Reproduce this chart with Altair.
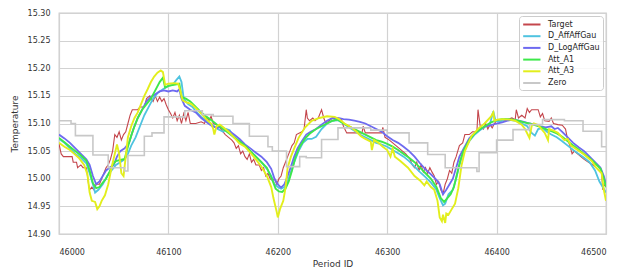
import altair as alt
import pandas as pd

series_names = ["Target", "D_AffAffGau", "D_LogAffGau", "Att_A1", "Att_A3", "Zero"]
series_colors = ["#c4464c", "#4fc3e0", "#6e6af0", "#3de84a", "#e2ee1c", "#c8c8c8"]
series_widths = [1.1, 1.8, 1.8, 1.9, 1.9, 1.6]

x_ticks = [46000, 46100, 46200, 46300, 46400, 46500]
y_ticks = [14.90, 14.95, 15.00, 15.05, 15.10, 15.15, 15.20, 15.25, 15.30]

target_x = [46000, 46002, 46004, 46012, 46013, 46016, 46017, 46020, 46022, 46025, 46027, 46028, 46030, 46032, 46034, 46037, 46039, 46041, 46043, 46045, 46047, 46049, 46050, 46051, 46053, 46055, 46057, 46059, 46061, 46063, 46065, 46067, 46072, 46074, 46078, 46080, 46083, 46086, 46088, 46090, 46092, 46094, 46096, 46098, 46100, 46102, 46104, 46106, 46108, 46110, 46112, 46114, 46116, 46118, 46120, 46125, 46130, 46133, 46135, 46137, 46139, 46141, 46145, 46148, 46150, 46152, 46155, 46158, 46160, 46162, 46164, 46166, 46168, 46170, 46172, 46174, 46176, 46178, 46180, 46183, 46185, 46187, 46189, 46191, 46193, 46195, 46197, 46199, 46201, 46203, 46205, 46207, 46209, 46211, 46213, 46215, 46217, 46222, 46224, 46226, 46227, 46229, 46232, 46234, 46237, 46240, 46242, 46244, 46247, 46250, 46254, 46258, 46260, 46263, 46270, 46277, 46278, 46280, 46295, 46296, 46298, 46302, 46305, 46308, 46311, 46314, 46317, 46319, 46321, 46323, 46325, 46327, 46329, 46331, 46333, 46335, 46337, 46339, 46341, 46343, 46345, 46347, 46349, 46351, 46353, 46355, 46357, 46359, 46361, 46363, 46366, 46369, 46371, 46375, 46378, 46382, 46383, 46385, 46388, 46390, 46392, 46394, 46396, 46398, 46400, 46403, 46407, 46410, 46414, 46417, 46418, 46420, 46423, 46426, 46428, 46430, 46432, 46438, 46440, 46442, 46444, 46448, 46450, 46452, 46456, 46460, 46463, 46465, 46467, 46469, 46471, 46474, 46477, 46480, 46484, 46488, 46491, 46494, 46496, 46497, 46498, 46500]
target_y = [15.063, 15.045, 15.04, 15.04, 15.03, 15.03, 15.02, 15.025, 15.02, 15.02, 14.99, 14.98, 14.985, 14.98, 14.99, 14.99, 15.0, 15.01, 15.02, 15.025, 15.035, 15.05, 15.065, 15.08, 15.075, 15.085, 15.07, 15.08, 15.085, 15.10, 15.115, 15.125, 15.125, 15.13, 15.13, 15.145, 15.15, 15.14, 15.15, 15.14, 15.148, 15.14, 15.145, 15.134, 15.125, 15.118, 15.11, 15.12, 15.105, 15.115, 15.10, 15.118, 15.105, 15.12, 15.10, 15.10, 15.103, 15.10, 15.112, 15.105, 15.113, 15.10, 15.097, 15.09, 15.085, 15.08, 15.075, 15.07, 15.065, 15.055, 15.06, 15.045, 15.05, 15.04, 15.035, 15.045, 15.03, 15.035, 15.025, 15.025, 15.015, 15.02, 15.005, 15.01, 15.0, 14.997, 15.0, 14.99, 15.0, 15.005, 15.02, 15.03, 15.04, 15.05, 15.06, 15.065, 15.08, 15.085, 15.09, 15.125, 15.11, 15.105, 15.11, 15.105, 15.11, 15.125, 15.11, 15.10, 15.105, 15.11, 15.105, 15.108, 15.095, 15.083, 15.083, 15.083, 15.095, 15.083, 15.083, 15.093, 15.075, 15.07, 15.065, 15.06, 15.055, 15.05, 15.045, 15.04, 15.035, 15.025, 15.02, 15.03, 15.015, 15.025, 15.012, 15.02, 15.01, 15.02, 15.012, 15.005, 14.99, 14.995, 14.98, 14.972, 14.99, 15.0, 15.015, 15.01, 15.03, 15.04, 15.06, 15.065, 15.08, 15.08, 15.085, 15.085, 15.125, 15.095, 15.09, 15.1, 15.09, 15.098, 15.092, 15.1, 15.105, 15.107, 15.105, 15.107, 15.11, 15.107, 15.125, 15.11, 15.115, 15.11, 15.127, 15.12, 15.125, 15.125, 15.112, 15.118, 15.105, 15.104, 15.11, 15.1, 15.098, 15.097, 15.09, 15.07, 15.06, 15.045, 15.05, 15.045, 15.04, 15.035, 15.03, 15.025, 15.02, 15.015, 15.01, 14.98, 14.99, 14.985]

affaff_x = [46000, 46005, 46010, 46015, 46020, 46025, 46028, 46031, 46033, 46036, 46040, 46044, 46048, 46052, 46056, 46060, 46063, 46066, 46070, 46074, 46078, 46082, 46086, 46090, 46095, 46100, 46104, 46107, 46110, 46112, 46114, 46118, 46122, 46126, 46130, 46135, 46140, 46145, 46150, 46153, 46156, 46160, 46165, 46170, 46175, 46180, 46185, 46190, 46194, 46197, 46200, 46203, 46206, 46209, 46212, 46215, 46219, 46223, 46227, 46231, 46235, 46240, 46245, 46250, 46255, 46260, 46265, 46270, 46275, 46280, 46285, 46290, 46295, 46300, 46305, 46310, 46315, 46320, 46325, 46330, 46335, 46340, 46345, 46348, 46351, 46353, 46356, 46360, 46363, 46366, 46370, 46375, 46380, 46385, 46390, 46394, 46397, 46399, 46403, 46408, 46413, 46418, 46423, 46428, 46432, 46435, 46438, 46442, 46446, 46450, 46455, 46460, 46465, 46470, 46475, 46480, 46485, 46490, 46494, 46497, 46500]
affaff_y = [15.072, 15.065, 15.055, 15.045, 15.038, 15.028, 15.01, 14.99, 14.975, 14.98, 14.99, 15.005, 15.015, 15.025, 15.03, 15.035, 15.045, 15.06, 15.075, 15.095, 15.115, 15.13, 15.145, 15.155, 15.162, 15.168, 15.17, 15.178, 15.185, 15.175, 15.145, 15.135, 15.13, 15.12, 15.112, 15.105, 15.098, 15.09, 15.085, 15.09, 15.088, 15.075, 15.067, 15.06, 15.05, 15.04, 15.03, 15.018, 15.005, 14.99, 14.985, 14.982, 14.985, 14.995, 15.012, 15.03, 15.05, 15.065, 15.072, 15.072, 15.076, 15.09, 15.1, 15.105, 15.106, 15.1, 15.093, 15.087, 15.08, 15.075, 15.07, 15.065, 15.062, 15.058, 15.052, 15.046, 15.04, 15.032, 15.022, 15.012, 15.003, 14.993, 14.98, 14.965, 14.952, 14.955, 14.972, 14.98, 15.0, 15.025, 15.05, 15.068, 15.08, 15.088, 15.095, 15.1, 15.122, 15.105, 15.103, 15.108, 15.106, 15.105, 15.1, 15.095, 15.083, 15.078, 15.09, 15.092, 15.085, 15.08, 15.075, 15.068, 15.06, 15.052, 15.045, 15.038, 15.03, 15.015, 14.995, 14.985, 14.975]

logaff_x = [46000, 46005, 46010, 46015, 46020, 46025, 46028, 46031, 46034, 46037, 46040, 46043, 46046, 46050, 46053, 46056, 46060, 46064, 46068, 46072, 46076, 46080, 46084, 46088, 46092, 46096, 46100, 46104, 46108, 46110, 46112, 46115, 46120, 46125, 46130, 46135, 46140, 46145, 46148, 46150, 46155, 46160, 46165, 46170, 46175, 46180, 46185, 46190, 46194, 46197, 46200, 46203, 46206, 46209, 46212, 46215, 46218, 46222, 46226, 46230, 46235, 46240, 46245, 46250, 46255, 46260, 46265, 46270, 46275, 46280, 46285, 46290, 46295, 46300, 46305, 46310, 46315, 46320, 46325, 46330, 46335, 46340, 46345, 46348, 46351, 46354, 46357, 46360, 46363, 46366, 46370, 46375, 46380, 46385, 46390, 46395, 46400, 46405, 46410, 46415, 46420, 46425, 46430, 46435, 46440, 46445, 46450, 46453, 46456, 46460, 46465, 46470, 46475, 46480, 46485, 46490, 46495, 46498, 46500]
logaff_y = [15.08, 15.073, 15.065, 15.055, 15.045, 15.035, 15.025, 15.005, 14.99, 14.995, 15.005, 15.015, 15.02, 15.025, 15.04, 15.05, 15.055, 15.065, 15.09, 15.11, 15.125, 15.14, 15.148, 15.153, 15.158, 15.16, 15.158, 15.16, 15.158, 15.162, 15.145, 15.132, 15.125, 15.12, 15.11, 15.102, 15.095, 15.092, 15.095, 15.09, 15.087, 15.08, 15.072, 15.062, 15.055, 15.047, 15.04, 15.03, 15.018, 15.0, 14.99, 14.984, 14.99, 15.005, 15.022, 15.04, 15.055, 15.068, 15.08, 15.085, 15.09, 15.098, 15.105, 15.11, 15.11, 15.108, 15.107, 15.105, 15.103, 15.1, 15.095, 15.09, 15.085, 15.077, 15.07, 15.065, 15.058, 15.05, 15.04, 15.028, 15.017, 15.008, 14.998, 14.99, 14.972, 14.98, 14.99, 15.0, 15.02, 15.04, 15.055, 15.073, 15.083, 15.09, 15.095, 15.097, 15.1, 15.102, 15.105, 15.107, 15.105, 15.103, 15.1, 15.098, 15.095, 15.093, 15.095, 15.09, 15.092, 15.085, 15.075, 15.065, 15.057, 15.05, 15.04, 15.03, 15.02, 15.005, 14.99]

atta1_x = [46000, 46005, 46010, 46015, 46020, 46025, 46028, 46031, 46034, 46037, 46040, 46043, 46046, 46049, 46052, 46056, 46060, 46063, 46066, 46069, 46072, 46076, 46080, 46084, 46088, 46092, 46095, 46097, 46100, 46105, 46110, 46112, 46116, 46120, 46125, 46130, 46135, 46140, 46145, 46150, 46155, 46160, 46165, 46170, 46175, 46180, 46185, 46190, 46195, 46198, 46201, 46204, 46207, 46210, 46213, 46216, 46220, 46225, 46230, 46235, 46240, 46245, 46250, 46255, 46260, 46265, 46270, 46275, 46280, 46285, 46290, 46295, 46300, 46305, 46310, 46315, 46320, 46325, 46330, 46335, 46340, 46345, 46349, 46352, 46355, 46358, 46361, 46364, 46367, 46370, 46375, 46380, 46385, 46390, 46395, 46400, 46405, 46410, 46415, 46420, 46425, 46430, 46435, 46440, 46445, 46450, 46455, 46460, 46465, 46470, 46475, 46480, 46485, 46490, 46495, 46498, 46500]
atta1_y = [15.074, 15.066, 15.058, 15.05, 15.042, 15.033, 15.015, 14.992, 14.983, 14.985, 14.993, 15.0, 15.012, 15.025, 15.032, 15.034, 15.036, 15.058, 15.078, 15.095, 15.11, 15.125, 15.135, 15.145, 15.16, 15.175, 15.183, 15.165, 15.168, 15.17, 15.172, 15.148, 15.145, 15.14, 15.13, 15.12, 15.112, 15.105, 15.097, 15.09, 15.083, 15.075, 15.068, 15.06, 15.05, 15.04, 15.03, 15.02, 14.998, 14.982, 14.977, 14.976, 14.982, 14.995, 15.015, 15.038, 15.058, 15.073, 15.083, 15.09, 15.095, 15.1, 15.105, 15.107, 15.1, 15.095, 15.09, 15.085, 15.08, 15.075, 15.07, 15.067, 15.063, 15.058, 15.052, 15.045, 15.038, 15.03, 15.02, 15.01, 15.0, 14.985, 14.965, 14.958, 14.965, 14.972, 14.985, 15.01, 15.035, 15.052, 15.07, 15.082, 15.09, 15.096, 15.102, 15.106, 15.108, 15.108, 15.107, 15.105, 15.102, 15.1, 15.097, 15.094, 15.09, 15.086, 15.082, 15.076, 15.068, 15.06, 15.053, 15.045, 15.037, 15.028, 15.018, 15.0, 14.985]

atta3_x = [46000, 46005, 46010, 46014, 46018, 46023, 46026, 46028, 46030, 46033, 46035, 46037, 46039, 46042, 46045, 46048, 46051, 46053, 46055, 46057, 46059, 46061, 46063, 46066, 46069, 46072, 46075, 46078, 46081, 46084, 46087, 46090, 46093, 46095, 46097, 46100, 46105, 46109, 46111, 46113, 46117, 46121, 46125, 46130, 46135, 46139, 46141, 46142, 46144, 46147, 46151, 46155, 46160, 46165, 46170, 46175, 46180, 46185, 46190, 46194, 46196, 46199, 46200, 46202, 46205, 46207, 46209, 46212, 46215, 46219, 46225, 46231, 46238, 46245, 46252, 46256, 46261, 46267, 46272, 46276, 46280, 46285, 46286, 46288, 46292, 46296, 46300, 46303, 46305, 46307, 46312, 46319, 46325, 46330, 46334, 46336, 46340, 46343, 46346, 46348, 46350, 46351, 46353, 46354, 46356, 46359, 46362, 46365, 46368, 46371, 46377, 46383, 46389, 46395, 46397, 46398, 46401, 46406, 46412, 46417, 46423, 46426, 46430, 46432, 46434, 46438, 46444, 46447, 46448, 46452, 46456, 46462, 46465, 46468, 46474, 46480, 46487, 46491, 46496, 46498, 46500]
atta3_y = [15.065, 15.058, 15.052, 15.045, 15.038, 15.025, 15.008, 14.975, 14.96, 14.958, 14.945, 14.95, 14.96, 14.97, 14.99, 15.02, 15.045, 15.062, 15.045, 15.01, 15.005, 15.04, 15.075, 15.095, 15.11, 15.12, 15.135, 15.15, 15.162, 15.175, 15.185, 15.192, 15.196, 15.193, 15.17, 15.172, 15.173, 15.172, 15.158, 15.142, 15.138, 15.135, 15.128, 15.118, 15.107, 15.1, 15.09, 15.08, 15.095, 15.098, 15.092, 15.085, 15.075, 15.064, 15.058, 15.047, 15.035, 15.022, 15.005, 14.985, 14.965, 14.94, 14.93, 14.945, 14.96, 14.983, 15.02, 15.04, 15.055, 15.074, 15.093, 15.105, 15.11, 15.113, 15.112, 15.108, 15.1, 15.093, 15.085, 15.077, 15.072, 15.067, 15.052, 15.07, 15.065, 15.058, 15.052, 15.04, 15.055, 15.04, 15.032, 15.02, 15.005, 14.997, 14.988, 14.995, 14.985, 14.98, 14.96, 14.93, 14.923, 14.935, 14.92, 14.937, 14.935, 14.945, 14.955, 14.983, 15.025, 15.05, 15.077, 15.09, 15.1, 15.113, 15.12, 15.105, 15.107, 15.108, 15.107, 15.105, 15.098, 15.09, 15.074, 15.095, 15.1, 15.097, 15.083, 15.07, 15.09, 15.087, 15.083, 15.07, 15.072, 15.06, 15.052, 15.044, 15.032, 15.02, 15.01, 14.98, 14.96]

zero_x = [46000, 46011, 46015, 46031, 46045, 46060, 46063, 46078, 46085, 46096, 46115, 46131, 46141, 46159, 46174, 46191, 46195, 46208, 46220, 46226, 46240, 46255, 46285, 46300, 46320, 46337, 46353, 46382, 46384, 46400, 46415, 46430, 46442, 46462, 46479, 46496, 46500]
zero_y = [15.105, 15.10, 15.078, 15.043, 15.02, 15.014, 15.042, 15.077, 15.083, 15.112, 15.123, 15.116, 15.113, 15.10, 15.077, 15.058, 15.05, 15.022, 15.04, 15.038, 15.071, 15.092, 15.088, 15.083, 15.065, 15.044, 15.02, 15.013, 15.047, 15.07, 15.089, 15.098, 15.107, 15.105, 15.086, 15.058, 15.058]

all_x = [target_x, affaff_x, logaff_x, atta1_x, atta3_x, zero_x]
all_y = [target_y, affaff_y, logaff_y, atta1_y, atta3_y, zero_y]

color_enc = alt.Color(
    "series:N",
    scale=alt.Scale(domain=series_names, range=series_colors),
    sort=series_names,
    legend=alt.Legend(
        title=None,
        orient="top-right",
        offset=3,
        symbolType="M-1,0L3,0",
        symbolSize=75,
        symbolStrokeWidth=2,
        labelFontSize=8,
        labelFont="DejaVu Sans",
        labelColor="#262626",
        labelOffset=15,
        rowPadding=1.7,
        padding=3,
        fillColor="rgba(255,255,255,0.85)",
        strokeColor="#cccccc",
        cornerRadius=3,
    ),
)

layers = []
for name, xs, ys, w in zip(series_names, all_x, all_y, series_widths):
    df = pd.DataFrame({"period": xs, "temp": ys, "series": name})
    interp = "step-after" if name == "Zero" else "linear"
    layer = alt.Chart(df).mark_line(strokeWidth=w, interpolate=interp, clip=True).encode(
        x=alt.X("period:Q", title="Period ID",
                scale=alt.Scale(domain=[46000, 46500], nice=False, zero=False),
                axis=alt.Axis(values=x_ticks, format="d")),
        y=alt.Y("temp:Q", title="Temperature",
                scale=alt.Scale(domain=[14.90, 15.30], nice=False, zero=False),
                axis=alt.Axis(values=y_ticks, format=".2f")),
        color=color_enc,
    )
    layers.append(layer)

chart = alt.layer(*layers).properties(
    width=547,
    height=221,
    padding={"left": 51, "top": 5, "right": 16, "bottom": 45},
    autosize=alt.AutoSizeParams(type="none"),
    background="white",
).configure_view(
    stroke="#cccccc", strokeWidth=1.3
).configure_axis(
    grid=True,
    gridColor="#d2d2d2",
    gridWidth=1.2,
    domain=False,
    ticks=False,
    labelFont="DejaVu Sans",
    labelFontSize=8,
    labelColor="#333333",
    titleFont="DejaVu Sans",
    titleFontSize=9,
    titleFontWeight="normal",
    titleColor="#333333",
).configure_axisY(
    labelPadding=9,
    titlePadding=8,
).configure_axisX(
    labelPadding=14,
    titlePadding=3,
)

chart.save("out.html", embed_options={"renderer": "svg", "actions": False})
